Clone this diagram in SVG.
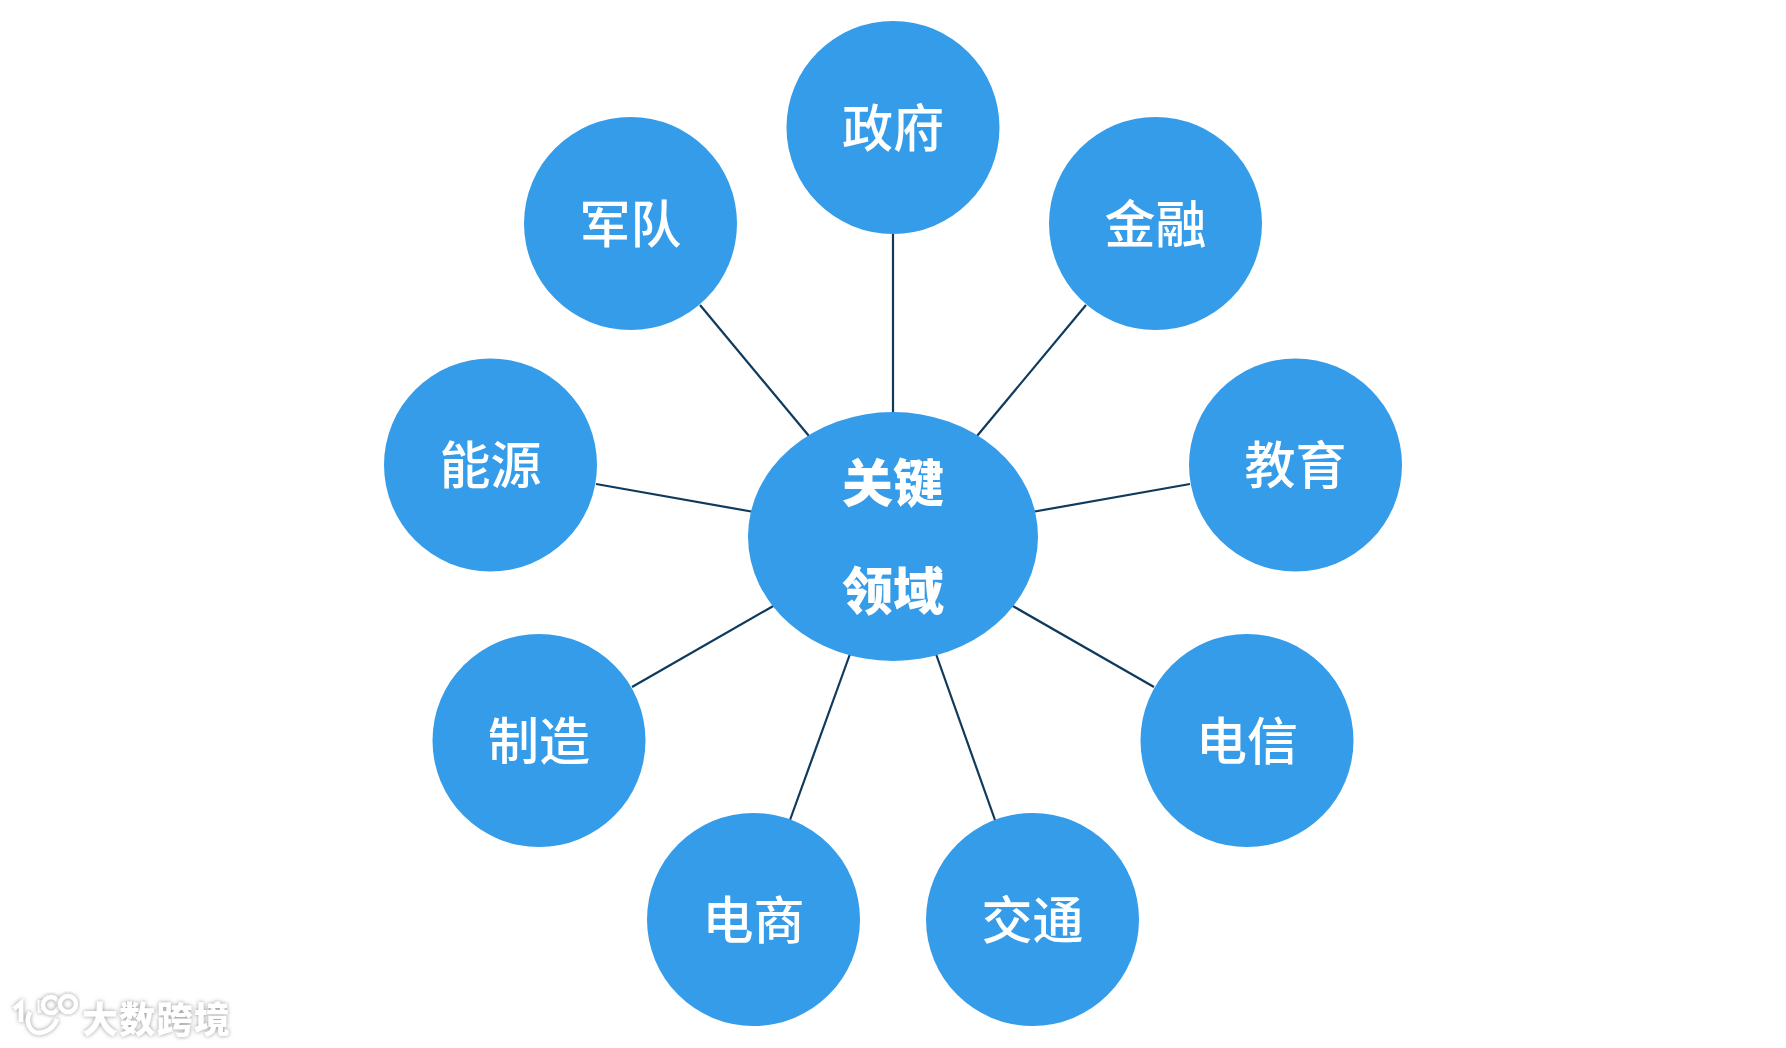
<svg xmlns="http://www.w3.org/2000/svg" width="1786" height="1048" viewBox="0 0 1786 1048">
<defs>
<style>
.n{fill:#359CEA}
.t{font-family:"Liberation Sans","Noto Sans CJK SC",sans-serif;font-size:51px;font-weight:500;fill:#fff;text-anchor:middle}
.b{font-weight:900}
.c line{stroke:#0F3A5C;stroke-width:2.2}
.w{font-family:"Noto Sans CJK SC",sans-serif;font-size:36px;font-weight:900;fill:#fff;filter:url(#g)}
.l{fill:none;stroke:#fff;stroke-width:4.5;filter:url(#g)}
</style>
<filter id="g" x="-20%" y="-30%" width="140%" height="160%"><feDropShadow dx="0" dy="0" stdDeviation="2" flood-color="#8a8a8a" flood-opacity=".9"/></filter>
</defs>
<rect width="1786" height="1048" fill="#fff"/>
<g id="connectors" class="c">
<line x1="893" y1="230" x2="893" y2="415"/>
<line x1="700" y1="305" x2="809" y2="436"/>
<line x1="1086" y1="305" x2="977" y2="436"/>
<line x1="596" y1="484" x2="754" y2="512"/>
<line x1="1190" y1="484" x2="1032" y2="512"/>
<line x1="632" y1="687" x2="775" y2="605"/>
<line x1="1154" y1="687" x2="1011" y2="605"/>
<line x1="790" y1="820" x2="850" y2="654"/>
<line x1="995" y1="820" x2="936" y2="654"/>
</g>
<g id="center"><ellipse class="n" cx="893" cy="536.5" rx="145" ry="124.5"/><text class="t b" x="893" y="501.5">关键</text><text class="t b" x="893" y="610">领域</text></g>
<g id="n1"><circle class="n" cx="893" cy="127.5" r="106.5"/><text class="t" x="893" y="146.5">政府</text></g>
<g id="n2"><circle class="n" cx="1155.5" cy="223.5" r="106.5"/><text class="t" x="1155.5" y="242.5">金融</text></g>
<g id="n3"><circle class="n" cx="1295.5" cy="465" r="106.5"/><text class="t" x="1295.5" y="484">教育</text></g>
<g id="n4"><circle class="n" cx="1247" cy="740.5" r="106.5"/><text class="t" x="1247" y="759.5">电信</text></g>
<g id="n5"><circle class="n" cx="1032.5" cy="919.5" r="106.5"/><text class="t" x="1032.5" y="938.5">交通</text></g>
<g id="n6"><circle class="n" cx="753.5" cy="919.5" r="106.5"/><text class="t" x="753.5" y="938.5">电商</text></g>
<g id="n7"><circle class="n" cx="539" cy="740.5" r="106.5"/><text class="t" x="539" y="759.5">制造</text></g>
<g id="n8"><circle class="n" cx="490.5" cy="465" r="106.5"/><text class="t" x="490.5" y="484">能源</text></g>
<g id="n9"><circle class="n" cx="630.5" cy="223.5" r="106.5"/><text class="t" x="630.5" y="242.5">军队</text></g>
<g id="watermark">
<path class="l" d="M14 1009 L21 1003 V1022 M30 1012 C24 1024 32 1036 44 1032 C50 1030 55 1025 57 1019 M40 1000 V1013"/>
<circle class="l" cx="51" cy="1005" r="8"/>
<circle class="l" cx="68" cy="1004" r="8"/>
<text class="w" x="82" y="1033" textLength="148" lengthAdjust="spacing">大数跨境</text>
</g>
</svg>
